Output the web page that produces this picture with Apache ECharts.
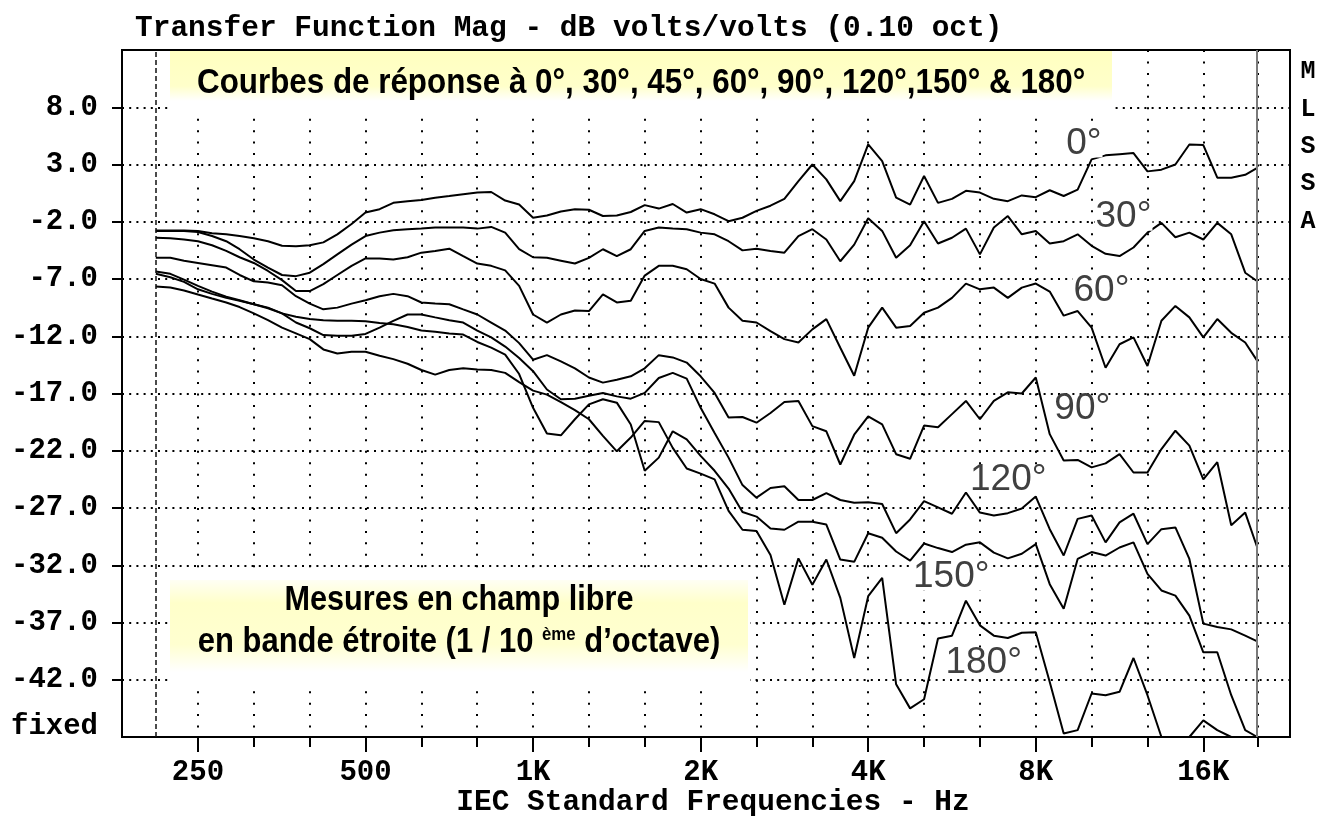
<!DOCTYPE html>
<html>
<head>
<meta charset="utf-8">
<script src="https://cdn.jsdelivr.net/npm/echarts@6.0.0/dist/echarts.min.js"></script>
<style>
html,body{margin:0;padding:0;background:#fff;}
#chart{width:1317px;height:827px;}
</style>
</head>
<body>
<div id="chart"></div>
<script>
// ---------------- data ----------------
// frequency grid, Hz (1/12 octave steps from 210 Hz to 20 kHz)
const freqHz = [210,223,236,250,265,281,297,315,334,354,375,397,420,445,472,500,530,561,595,630,667,707,749,794,841,891,944,
  1000,1059,1122,1189,1260,1335,1414,1498,1587,1682,1782,1888,2000,2119,2245,2378,2520,2670,2828,2997,3175,3364,3564,3775,4000,4238,4490,4757,
  5040,5339,5657,5993,6350,6727,7127,7551,8000,8476,8980,9514,10079,10679,11314,11986,12699,13454,14254,15102,16000,16951,17959,19027,20000];

const deg0 = [-2.76,-2.76,-2.76,-2.8,-3.0,-3.1,-3.25,-3.45,-3.7,-4.1,-4.15,-4.05,-3.8,-3.1,-2.2,-1.2,-0.9,-0.35,-0.2,-0.1,0.1,0.25,0.4,0.55,0.6,-0.15,-0.5,
  -1.65,-1.45,-1.1,-0.9,-0.95,-1.5,-1.45,-1.15,-0.55,-0.85,-0.45,-1.2,-0.9,-1.35,-1.95,-1.65,-1.05,-0.6,0.0,1.55,3.0,1.7,-0.2,1.55,4.75,3.3,0.1,-0.5,
  2.0,-0.35,0.0,0.7,0.55,0.0,-0.2,0.3,0.15,0.75,0.25,0.8,3.45,3.8,3.9,4.0,2.4,2.55,3.0,4.75,4.7,1.85,1.85,2.1,2.7];

const deg30 = [-2.8,-2.8,-2.8,-2.9,-3.25,-3.7,-4.4,-5.3,-6.0,-6.65,-6.75,-6.45,-5.7,-4.85,-4.0,-3.25,-2.95,-2.75,-2.65,-2.6,-2.5,-2.5,-2.5,-2.6,-2.45,-2.95,-4.4,
  -5.1,-5.15,-5.4,-5.65,-5.15,-4.4,-5.0,-4.4,-2.8,-2.5,-2.6,-2.65,-2.95,-3.1,-3.7,-4.5,-4.35,-4.55,-4.7,-3.25,-2.65,-3.55,-5.45,-4.0,-1.7,-2.8,-5.15,-4.05,
  -1.95,-3.9,-3.4,-2.6,-4.85,-2.5,-1.5,-3.1,-2.8,-3.9,-3.7,-3.1,-4.1,-4.8,-5.0,-4.25,-2.95,-2.1,-3.35,-2.95,-3.55,-2.1,-3.1,-6.45,-7.2];

const deg60 = [-3.4,-3.45,-3.55,-3.7,-4.05,-4.55,-5.1,-5.6,-6.3,-7.1,-8.05,-8.05,-7.45,-6.65,-5.85,-5.2,-5.2,-5.3,-5.1,-4.7,-4.55,-4.35,-5.0,-5.65,-5.85,-6.25,-7.6,
  -10.1,-10.8,-10.1,-9.75,-9.8,-8.35,-9.05,-8.9,-6.7,-5.85,-5.85,-6.15,-7.0,-7.4,-9.5,-10.65,-10.8,-11.55,-12.25,-12.55,-11.4,-10.5,-13.0,-15.45,-11.25,-9.5,-11.25,-11.1,
  -9.95,-9.5,-8.65,-7.4,-7.9,-7.75,-8.65,-7.75,-7.4,-8.1,-10.2,-9.8,-11.25,-14.75,-12.7,-12.1,-14.6,-10.65,-9.35,-10.35,-12.1,-10.5,-11.7,-12.55,-14.15];

const deg90 = [-5.15,-5.15,-5.4,-5.6,-5.8,-6.0,-6.65,-7.2,-7.3,-7.55,-8.5,-9.15,-9.65,-9.5,-9.15,-8.85,-8.5,-8.3,-8.5,-9.05,-9.15,-9.2,-9.65,-10.1,-10.8,-11.5,-12.6,
  -14.05,-13.65,-14.2,-14.8,-15.6,-16.05,-15.8,-15.5,-14.8,-13.65,-13.85,-14.3,-15.5,-16.95,-19.1,-19.05,-19.55,-18.7,-17.75,-17.65,-19.85,-20.3,-23.2,-20.6,-19.0,-19.7,-22.3,-22.7,
  -19.8,-19.95,-18.8,-17.65,-19.25,-17.65,-16.9,-17.0,-15.6,-20.55,-22.85,-22.8,-23.45,-23.1,-22.3,-23.9,-23.9,-21.85,-20.25,-21.55,-24.5,-23.0,-28.5,-27.4,-30.45];

const deg120 = [-6.55,-6.85,-7.25,-7.9,-8.3,-8.65,-8.9,-9.2,-9.55,-10.0,-10.8,-11.3,-11.9,-11.95,-11.95,-11.8,-11.25,-10.65,-10.1,-10.1,-10.35,-10.6,-10.8,-11.5,-12.1,-12.9,-13.9,
  -15.05,-16.65,-17.5,-17.45,-17.2,-16.95,-17.25,-17.45,-16.95,-15.65,-15.2,-15.7,-18.25,-20.45,-22.6,-25.0,-26.1,-25.25,-25.1,-26.3,-26.3,-25.7,-26.3,-26.55,-26.5,-26.65,-29.2,-28.0,
  -26.4,-26.95,-27.5,-25.65,-27.4,-27.65,-27.45,-27.05,-26.0,-28.85,-31.15,-27.95,-27.65,-30.0,-28.25,-27.5,-30.15,-28.85,-28.7,-31.45,-37.1,-37.4,-37.6,-38.15,-38.65];

const deg150 = [-6.35,-6.55,-7.05,-7.6,-8.1,-8.55,-8.85,-9.2,-9.5,-10.0,-10.3,-10.5,-10.6,-10.65,-10.65,-10.7,-10.85,-10.95,-11.2,-11.5,-11.6,-11.75,-11.85,-12.5,-13.0,-13.6,-15.3,
  -18.25,-20.5,-20.65,-19.25,-17.95,-17.5,-17.8,-19.7,-23.75,-22.6,-20.3,-21.0,-22.45,-23.75,-25.3,-27.35,-27.75,-28.8,-28.9,-28.2,-28.2,-28.45,-31.5,-31.7,-29.2,-29.6,-30.8,-31.6,
  -30.1,-30.5,-30.85,-30.2,-30.0,-30.9,-31.4,-31.0,-30.15,-33.65,-35.8,-31.45,-30.85,-31.15,-30.45,-30.0,-32.75,-34.2,-34.65,-36.4,-39.6,-39.6,-43.35,-46.4,-47];

const deg180 = [-7.65,-7.75,-8.0,-8.35,-8.7,-9.05,-9.45,-10.0,-10.6,-11.25,-11.75,-12.25,-13.15,-13.5,-13.35,-13.35,-13.7,-14.0,-14.4,-14.95,-15.35,-14.95,-14.8,-14.9,-14.95,-15.2,-16.0,
  -16.75,-17.1,-17.75,-18.45,-19.25,-20.7,-22.05,-20.85,-19.4,-19.5,-21.75,-23.55,-24.0,-24.5,-27.25,-28.9,-29.0,-31.1,-35.45,-31.4,-33.7,-31.5,-34.85,-40.1,-34.7,-33.1,-42.4,-44.5,
  -43.7,-38.4,-38.15,-35.1,-37.25,-38.15,-38.35,-37.9,-37.85,-42.2,-46.7,-46.4,-43.2,-43.35,-43.05,-40.1,-43.35,-47,-47,-47,-45.55,-46.4,-47,-47,-47];

// axis tick labels
const xTickFreqs = [250,500,1000,2000,4000,8000,16000];
const xTickLabels = ['250','500','1K','2K','4K','8K','16K'];
const thirdOctFreqs = [250,315,400,500,630,800,1000,1250,1600,2000,2500,3150,4000,5000,6300,8000,10000,12500,16000,20000];
const yTickValues = [8,3,-2,-7,-12,-17,-22,-27,-32,-37,-42];
const yBottomLabel = 'fixed';

// curve names and where their labels sit ([Hz, dB])
const curveNames = ['0°','30°','60°','90°','120°','150°','180°'];
const curveValues = [deg0, deg30, deg60, deg90, deg120, deg150, deg180];
const labelAnchors = [[9760,4.8],[11500,-1.6],[10500,-8.05],[9700,-18.35],[7140,-24.5],[5640,-33.0],[6450,-40.55]];

// ---------------- chart ----------------
const oct = f => Math.log2(f / 1000);
const snapThird = f => Math.round(3 * oct(f)) / 3;
const X_MIN = oct(182.6), X_MAX = oct(22900);
const Y_MIN = -47, Y_MAX = 13;

const minorTicks = thirdOctFreqs.map(f => f === 20000 ? oct(f) : snapThird(f));
const majorTicks = xTickFreqs.map(oct);

const monoBold = {fontFamily: 'Liberation Mono', fontWeight: 'bold', fontSize: 29, color: '#000'};

const series = curveNames.map((name, si) => ({
  name: name,
  type: 'line',
  xAxisIndex: 0,
  yAxisIndex: 0,
  data: freqHz.map((f, i) => [oct(f), curveValues[si][i]]),
  showSymbol: false,
  symbol: 'none',
  lineStyle: {color: '#000', width: 2},
  clip: true,
  z: 3,
  silent: true,
  markPoint: {
    silent: true,
    symbol: 'rect',
    symbolSize: 1,
    itemStyle: {color: 'rgba(0,0,0,0)'},
    z: 6,
    data: [{
      coord: [oct(labelAnchors[si][0]), labelAnchors[si][1]],
      label: {
        show: true, position: 'inside', formatter: name,
        fontFamily: 'Liberation Sans', fontSize: 37, lineHeight: 27, color: '#404040',
        backgroundColor: '#fff', padding: [0, 1]
      }
    }]
  }
}));

// reference lines: start of measurement (dashed) and 20 kHz limit (grey)
series[0].markLine = {
  silent: true,
  symbol: ['none', 'none'],
  label: {show: false},
  z: 4,
  data: [
    {xAxis: oct(210), lineStyle: {color: '#111', width: 1.5, type: [5, 3]}},
    {xAxis: oct(20000), lineStyle: {color: '#7a7a7a', width: 2, type: 'solid'}}
  ]
};

const option = {
  animation: false,
  backgroundColor: '#fff',
  grid: {
    left: 122, right: 27, top: 50, bottom: 90,
    show: true, borderColor: '#000', borderWidth: 2, backgroundColor: 'transparent',
    containLabel: false, outerBoundsMode: 'none'
  },
  xAxis: [
    {
      type: 'value', min: X_MIN, max: X_MAX, position: 'bottom',
      axisLine: {show: true, onZero: false, lineStyle: {color: '#000', width: 2}},
      axisTick: {show: true, customValues: minorTicks, length: 10, inside: false, lineStyle: {color: '#000', width: 2}},
      axisLabel: {show: false},
      splitLine: {show: true, lineStyle: {color: '#000', width: 2, type: [2, 9.45]}}
    },
    {
      type: 'value', min: X_MIN, max: X_MAX, position: 'bottom', offset: 0,
      axisLine: {show: false, onZero: false},
      axisTick: {show: true, customValues: majorTicks, length: 15, lineStyle: {color: '#000', width: 2}},
      axisLabel: Object.assign({
        show: true, customValues: majorTicks, margin: 21,
        formatter: v => {
          const i = majorTicks.findIndex(t => Math.abs(t - v) < 1e-6);
          return i >= 0 ? xTickLabels[i] : '';
        }
      }, monoBold),
      splitLine: {show: false}
    }
  ],
  yAxis: {
    type: 'value', min: Y_MIN, max: Y_MAX,
    axisLine: {show: true, onZero: false, lineStyle: {color: '#000', width: 2}},
    axisTick: {show: true, customValues: yTickValues, length: 10, lineStyle: {color: '#000', width: 2}},
    axisLabel: Object.assign({
      show: true, customValues: yTickValues.concat([Y_MIN]), margin: 24,
      formatter: v => (Math.abs(v - Y_MIN) < 1e-6 ? '{f|' + yBottomLabel + '}' : v.toFixed(1)),
      rich: {f: {fontFamily: 'Liberation Mono', fontWeight: 'bold', fontSize: 29, color: '#000', padding: [0, 0, 20, 0]}}
    }, monoBold),
    splitLine: {show: true, lineStyle: {color: '#000', width: 2, type: [2, 5.2]}}
  },
  series: series,
  graphic: {
    elements: [
      // title
      {type: 'text', x: 135, y: 29, z: 100, style: {
        text: 'Transfer Function Mag - dB volts/volts (0.10 oct)',
        font: 'bold 29.5px "Liberation Mono"', fill: '#000',
        align: 'left', verticalAlign: 'middle', textAlign: 'left', textVerticalAlign: 'middle'}},
      // x axis title
      {type: 'text', x: 713, y: 803, z: 100, style: {
        text: 'IEC Standard Frequencies - Hz',
        font: 'bold 29.5px "Liberation Mono"', fill: '#000',
        align: 'center', verticalAlign: 'middle', textAlign: 'center', textVerticalAlign: 'middle'}},
      // MLSSA
      {type: 'text', x: 1308, y: 53.5, z: 100, style: {
        text: 'M\nL\nS\nS\nA', lineHeight: 37.3,
        font: 'bold 25px "Liberation Mono"', fill: '#000',
        align: 'center', verticalAlign: 'top', textAlign: 'center', textVerticalAlign: 'top'}},
      // top annotation
      {type: 'rect', z: 100, shape: {x: 168, y: 52, width: 946, height: 62}, style: {fill: '#fff'}},
      {type: 'rect', z: 101, shape: {x: 170, y: 51, width: 942, height: 50}, style: {
        fill: {type: 'linear', x: 0, y: 0, x2: 0, y2: 1, colorStops: [
          {offset: 0, color: '#FFFFC0'}, {offset: 0.7, color: '#FFFFCA'}, {offset: 1, color: '#FFFFFF'}]}}},
      {type: 'text', x: 197, y: 83, z: 102, scaleX: 0.896, style: {
        text: 'Courbes de réponse à 0°, 30°, 45°, 60°, 90°, 120°,150° & 180°',
        font: 'bold 35px "Liberation Sans"', fill: '#000',
        align: 'left', verticalAlign: 'middle', textAlign: 'left', textVerticalAlign: 'middle'}},
      // bottom annotation
      {type: 'rect', z: 100, shape: {x: 168, y: 575, width: 582, height: 111}, style: {fill: '#fff'}},
      {type: 'rect', z: 101, shape: {x: 170, y: 580, width: 578, height: 92}, style: {
        fill: {type: 'linear', x: 0, y: 0, x2: 0, y2: 1, colorStops: [
          {offset: 0, color: '#FFFFF4'}, {offset: 0.25, color: '#FFFFCA'}, {offset: 0.7, color: '#FFFFD0'}, {offset: 1, color: '#FFFFFF'}]}}},
      {type: 'text', x: 459, y: 600.5, z: 102, scaleX: 0.875, style: {
        text: 'Mesures en champ libre',
        font: 'bold 35px "Liberation Sans"', fill: '#000',
        align: 'center', verticalAlign: 'middle', textAlign: 'center', textVerticalAlign: 'middle'}},
      {type: 'text', x: 459, y: 642.5, z: 102, scaleX: 0.885, style: {
        text: 'en bande étroite (1 / 10 {s|ème} d’octave)',
        font: 'bold 35px "Liberation Sans"', fill: '#000',
        align: 'center', verticalAlign: 'middle', textAlign: 'center', textVerticalAlign: 'middle',
        rich: {s: {fontFamily: 'Liberation Sans', fontWeight: 'bold', fontSize: 19, fill: '#000', verticalAlign: 'top'}}}}
    ]
  }
};

const chart = echarts.init(document.getElementById('chart'), null, {renderer: 'canvas', width: 1317, height: 827});
chart.setOption(option);
</script>
</body>
</html>
